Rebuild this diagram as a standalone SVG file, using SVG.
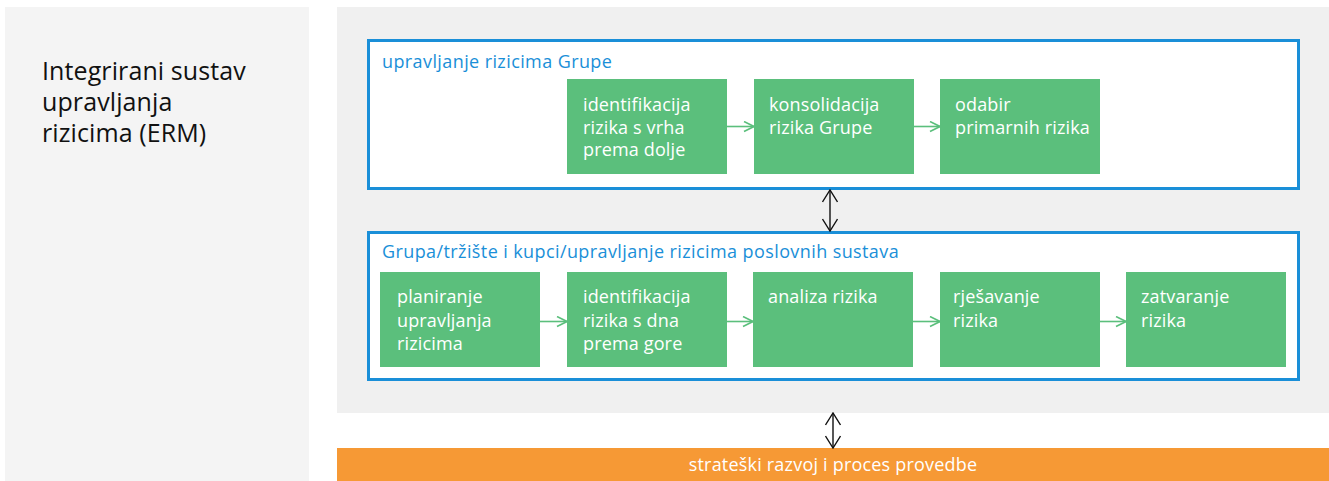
<svg xmlns="http://www.w3.org/2000/svg" width="1329" height="481" viewBox="0 0 1329 481">
<style>
.t{font-family:"Open Sans","Liberation Sans",sans-serif}
.box{fill:#5bbf7c}
.bt{font-family:"Open Sans","Liberation Sans",sans-serif;font-size:18px;letter-spacing:0.15px;fill:#ffffff}
.frame{fill:#ffffff;stroke:#1a8fd8;stroke-width:3}
.ft{font-family:"Open Sans","Liberation Sans",sans-serif;font-size:18px;letter-spacing:0.4px;fill:#1a8fd8}
.ga{stroke:#5bbf7c;stroke-width:1.6;fill:none}
.ka{stroke:#111111;stroke-width:1.4;fill:none}
</style>
<defs>
<marker id="gh" viewBox="0 0 12 12" refX="11" refY="6" markerWidth="12" markerHeight="12" markerUnits="userSpaceOnUse" orient="auto">
<path d="M1,1 L11,6 L1,11" fill="none" stroke="#5bbf7c" stroke-width="1.6"/>
</marker>
<marker id="kh" viewBox="0 0 14 16" refX="13" refY="8" markerWidth="14" markerHeight="16" markerUnits="userSpaceOnUse" orient="auto-start-reverse">
<path d="M1,0.5 L13,8 L1,15.5" fill="none" stroke="#111111" stroke-width="1.4"/>
</marker>
</defs>
<g id="left-panel">
<rect x="5" y="7" width="304" height="474" fill="#f4f4f4"/>
<text class="t" font-size="25" letter-spacing="0.1" fill="#111111"><tspan x="42" y="80">Integrirani sustav</tspan><tspan x="42" y="111">upravljanja</tspan><tspan x="42" y="142">rizicima (ERM)</tspan></text>
</g>
<g id="right-panel">
<rect x="337" y="7" width="992" height="406" fill="#f0f0f0"/>
</g>
<g id="group-frame">
<rect class="frame" x="368.5" y="40.5" width="930" height="148"/>
<text class="ft" x="382" y="68">upravljanje rizicima Grupe</text>
</g>
<g id="business-frame">
<rect class="frame" x="368.5" y="232.5" width="930" height="147"/>
<text class="ft" x="382" y="258">Grupa/tržište i kupci/upravljanje rizicima poslovnih sustava</text>
</g>
<g id="n-top1"><rect class="box" x="567" y="79" width="160" height="95"/><text class="bt"><tspan x="583" y="111">identifikacija</tspan><tspan x="583" y="133.5">rizika s vrha</tspan><tspan x="583" y="156">prema dolje</tspan></text></g>
<g id="n-top2"><rect class="box" x="754" y="79" width="160" height="95"/><text class="bt"><tspan x="769" y="111">konsolidacija</tspan><tspan x="769" y="133.5">rizika Grupe</tspan></text></g>
<g id="n-top3"><rect class="box" x="940" y="79" width="160" height="95"/><text class="bt"><tspan x="955" y="111">odabir</tspan><tspan x="955" y="133.5">primarnih rizika</tspan></text></g>
<g id="n-b1"><rect class="box" x="380" y="272" width="160" height="95"/><text class="bt"><tspan x="397" y="303">planiranje</tspan><tspan x="397" y="326.5">upravljanja</tspan><tspan x="397" y="350">rizicima</tspan></text></g>
<g id="n-b2"><rect class="box" x="567" y="272" width="160" height="95"/><text class="bt"><tspan x="583" y="303">identifikacija</tspan><tspan x="583" y="326.5">rizika s dna</tspan><tspan x="583" y="350">prema gore</tspan></text></g>
<g id="n-b3"><rect class="box" x="753" y="272" width="160" height="95"/><text class="bt"><tspan x="768" y="303">analiza rizika</tspan></text></g>
<g id="n-b4"><rect class="box" x="940" y="272" width="160" height="95"/><text class="bt"><tspan x="953" y="303">rješavanje</tspan><tspan x="953" y="326.5">rizika</tspan></text></g>
<g id="n-b5"><rect class="box" x="1126" y="272" width="160" height="95"/><text class="bt"><tspan x="1141" y="303">zatvaranje</tspan><tspan x="1141" y="326.5">rizika</tspan></text></g>
<g id="n-strategy">
<rect x="337" y="448" width="992" height="33" fill="#f69935"/>
<text class="t" font-size="18" letter-spacing="0.2" fill="#ffffff" x="833" y="471" text-anchor="middle">strateški razvoj i proces provedbe</text>
</g>
<g id="connectors">
<line class="ga" x1="727" y1="126.5" x2="754" y2="126.5" marker-end="url(#gh)"/>
<line class="ga" x1="914" y1="126.5" x2="940" y2="126.5" marker-end="url(#gh)"/>
<line class="ga" x1="540" y1="321.5" x2="567" y2="321.5" marker-end="url(#gh)"/>
<line class="ga" x1="727" y1="321.5" x2="753" y2="321.5" marker-end="url(#gh)"/>
<line class="ga" x1="913" y1="321.5" x2="940" y2="321.5" marker-end="url(#gh)"/>
<line class="ga" x1="1100" y1="321.5" x2="1126" y2="321.5" marker-end="url(#gh)"/>
<line class="ka" x1="830" y1="190" x2="830" y2="231" marker-start="url(#kh)" marker-end="url(#kh)"/>
<line class="ka" x1="833" y1="413" x2="833" y2="448" marker-start="url(#kh)" marker-end="url(#kh)"/>
</g>
</svg>
